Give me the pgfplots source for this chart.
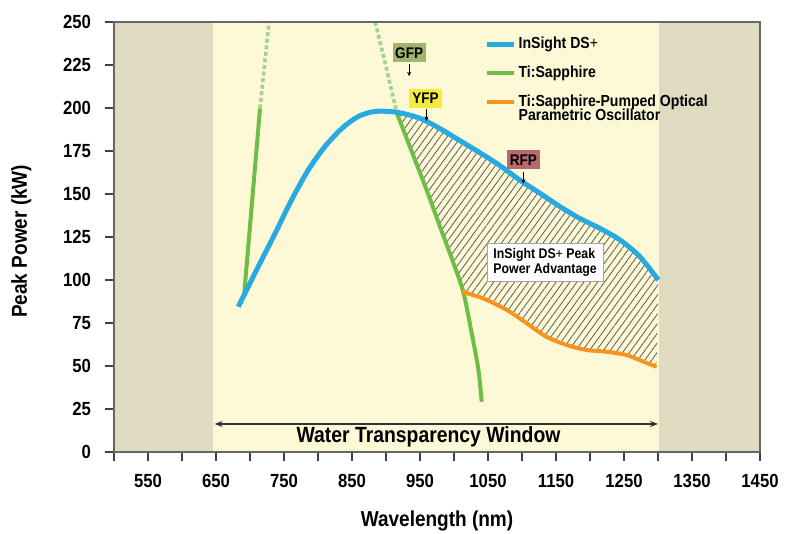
\documentclass[border=0pt]{standalone}
\usepackage{fontspec}
\setmainfont{Liberation Sans}[FakeStretch=0.88]
\usepackage{pgfplots}
\pgfplotsset{compat=1.18}
\usetikzlibrary{patterns.meta,arrows.meta}

\definecolor{bgyellow}{RGB}{253,249,215}
\definecolor{bandgray}{RGB}{222,219,192}
\definecolor{dsblue}{RGB}{40,170,225}
\definecolor{tigreen}{RGB}{110,190,70}
\definecolor{tigreenlt}{RGB}{165,210,145}
\definecolor{opoorange}{RGB}{247,148,30}
\definecolor{gfpbox}{RGB}{160,180,110}
\definecolor{yfpbox}{RGB}{245,235,60}
\definecolor{rfpbox}{RGB}{185,105,110}

\begin{document}
\begin{tikzpicture}
\begin{axis}[
    name=ax,
    scale only axis,
    width=323pt, height=215pt,
    xmin=500, xmax=1450, ymin=0, ymax=250,
    xtick={550,650,...,1450},
    minor xtick={500,600,...,1400},
    ytick={0,25,...,250},
    tick align=outside,
    major tick length=4.5pt, minor tick length=4.5pt,
    xtick pos=bottom, ytick pos=left,
    tick style={black!75, line width=0.8pt},
    axis line style={black!60, line width=1pt},
    axis on top,
    axis background/.style={fill=bgyellow},
    ticklabel style={font=\fontsize{9.5}{11}\selectfont\bfseries},
    xticklabel style={yshift=-3pt},
    yticklabel style={xshift=-3.5pt},
    /pgf/number format/assume math mode=true,
    /pgf/number format/set thousands separator={},
    xlabel={Wavelength (nm)},
    ylabel={Peak Power (kW)},
    label style={font=\fontsize{10.8}{12}\selectfont\bfseries},
    xlabel style={at={(axis description cs:0.5,-0.16)}, anchor=center},
    ylabel style={at={(axis description cs:-0.1435,0.49)}, anchor=center},
    legend image code/.code={\draw[#1, line width=2.2pt] (0pt,0pt) -- (13.5pt,0pt);},
    legend cell align=left,
    legend style={draw=none, fill=none, at={(axis description cs:0.574,0.97)}, anchor=north west,
        font=\fontsize{8}{8.6}\selectfont\bfseries, row sep=5pt, inner sep=0pt,
        nodes={inner sep=1pt}},
]
\addlegendimage{dsblue}
\addlegendentry{InSight DS\textmd{+}}
\addlegendimage{tigreen}
\addlegendentry{Ti:Sapphire}
\addlegendimage{opoorange}
\addlegendentry{\begin{tabular}[t]{@{}l@{}}Ti:Sapphire-Pumped Optical\\[-1.5pt]Parametric Oscillator\end{tabular}}

% out-of-window bands
\fill[bandgray] (axis cs:500,0) rectangle (axis cs:645,250);
\fill[bandgray] (axis cs:1302,0) rectangle (axis cs:1450,250);

% peak power advantage region
\addplot[forget plot, draw=none, pattern={Lines[angle=54,distance=2.8pt,line width=0.4pt]}, pattern color=black!65]
coordinates {
    (916,197.5) (950,194) (979.4,188) (1008.8,181) (1038,174) (1067.6,166.5)
    (1097,158) (1126.5,150.4) (1156,142.6) (1185,135.8) (1214.7,130) (1244,123.3)
    (1273.5,113.5) (1300.4,100)
    (1298,49.6) (1278.4,52.5) (1253.8,56.4) (1224.5,58.3) (1195,59.3) (1165.7,62.2)
    (1136,67) (1107,74.8) (1077.5,82.6) (1043,89.3) (1011,93.2)
    (999,108) (979.4,131) (960,152) (938,174.5)
} -- cycle;

\node[draw=black!35, line width=0.6pt, fill=white, align=left, inner sep=2pt,
      font=\fontsize{7}{7.6}\selectfont\bfseries, minimum width=58pt, minimum height=19pt]
      at (axis cs:1134,110.2) {InSight DS\textmd{+} Peak\\Power Advantage};

% Ti:Sapphire
\addplot[forget plot, tigreen, line width=2pt] coordinates {(691.5,92) (714.7,199.8)};
\addplot[forget plot, tigreenlt, line width=1.8pt, dash pattern=on 2pt off 1.3pt] coordinates {(714.7,199.8) (728,250)};
\addplot[forget plot, tigreenlt, line width=1.8pt, dash pattern=on 2pt off 1.3pt, smooth] coordinates {(884,250) (900,224) (916,197)};
\addplot[forget plot, tigreen, line width=2pt, smooth] coordinates {
    (916,197) (938,174.5) (960,152) (979.4,131) (999,110) (1013.7,93)
    (1026,69) (1035.8,48) (1040.7,29.2)
};

% InSight DS+
\addplot[forget plot, dsblue, line width=2.5pt, smooth] coordinates {
    (682.8,84.5) (712,107.7) (736.8,127) (761,146.5) (785.7,164) (810,177.5)
    (834.8,188) (859,195) (883.8,198) (916,197.5) (950,194) (979.4,188)
    (1008.8,181) (1038,174) (1067.6,166.5) (1097,158) (1126.5,150.4)
    (1156,142.6) (1185,135.8) (1214.7,130) (1244,123.3) (1273.5,113.5) (1300.4,100)
};

% OPO
\addplot[forget plot, opoorange, line width=2pt, smooth] coordinates {
    (1011,93.2) (1043,89.3) (1077.5,82.6) (1107,74.8) (1136,67) (1165.7,62.2)
    (1195,59.3) (1224.5,58.3) (1253.8,56.4) (1278.4,52.5) (1298,49.6)
};

% fluorescent protein markers
\tikzset{fp/.style={inner sep=0pt, minimum width=16.5pt, minimum height=9.5pt,
    font=\fontsize{7.7}{8}\selectfont\bfseries}}
\node[fp, fill=gfpbox] at (axis cs:934,232) {GFP};
\draw[-{Stealth[length=2.2pt,width=2pt]}, line width=0.5pt] (axis cs:934,225.5) -- (axis cs:934,218.5);
\node[fp, fill=yfpbox] at (axis cs:958,205.6) {YFP};
\draw[-{Stealth[length=2.2pt,width=2pt]}, line width=0.5pt] (axis cs:959.6,199.5) -- (axis cs:959.6,192.5);
\node[fp, fill=rfpbox] at (axis cs:1102,169.8) {RFP};
\draw[-{Stealth[length=2.2pt,width=2pt]}, line width=0.5pt] (axis cs:1102,163) -- (axis cs:1102,156);

% water window
\draw[{Stealth[length=4pt,width=3pt]}-{Stealth[length=4pt,width=3pt]}, line width=0.6pt, black!80]
    (axis cs:648,16.3) -- (axis cs:1300,16.3);
\node[font=\fontsize{11}{12}\selectfont\bfseries] at (axis cs:962.5,8.7) {Water Transparency Window};

\coordinate (bbl) at (rel axis cs:-0.1765,-0.1884);
\coordinate (btr) at (rel axis cs:1.0433,1.0512);
\end{axis}
\pgfresetboundingbox
\path[use as bounding box] (bbl) rectangle (btr);
\end{tikzpicture}
\end{document}
